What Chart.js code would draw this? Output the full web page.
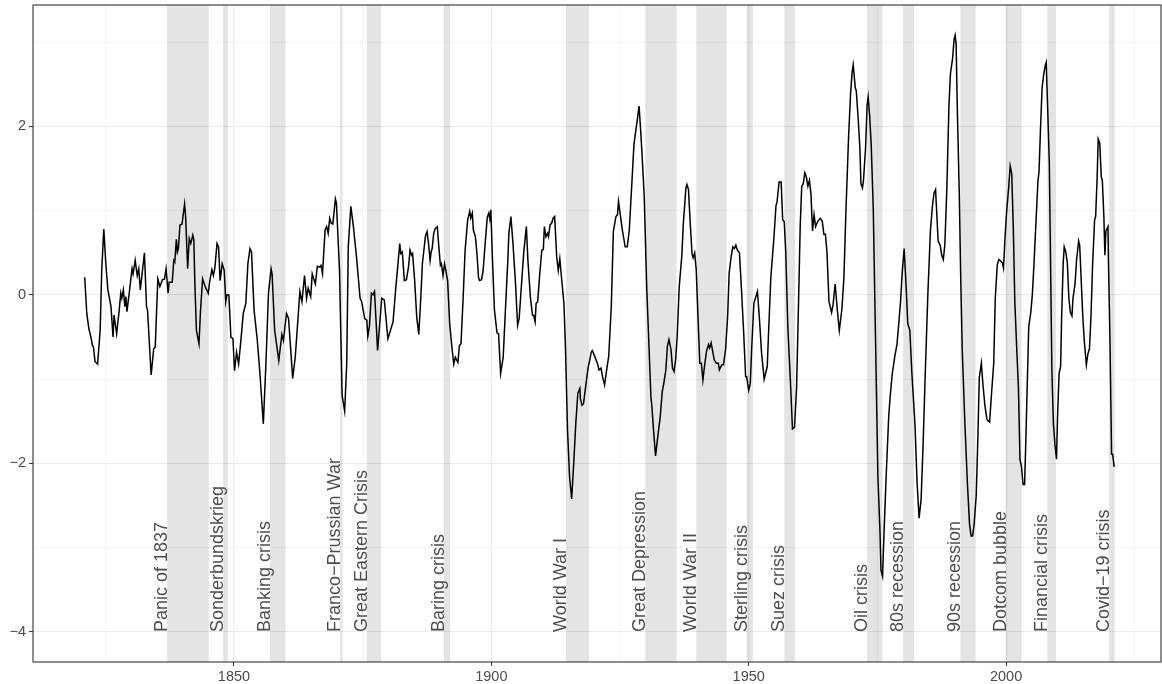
<!DOCTYPE html>
<html>
<head>
<meta charset="utf-8">
<script src="https://cdn.jsdelivr.net/npm/chart.js@4.4.1/dist/chart.umd.min.js"></script>
<style>
  html, body { margin: 0; padding: 0; background: #ffffff; }
  canvas { display: block; }
</style>
</head>
<body>
<canvas id="chart" width="1162" height="684"></canvas>
<script>
// Composite index, sampled along the time axis (decimal years)
const years = [
  1821.0,1821.4,1821.8,1822.2,1822.5,1822.7,1823.0,1823.5,1824.0,1824.3,1824.7,1825.1,1825.5,1826.1,1826.5,1826.7,
  1827.2,1827.7,1828.0,1828.2,1828.5,1828.8,1829.0,1829.2,1829.6,1830.2,1830.4,1830.8,1831.2,1831.5,1831.8,1832.6,
  1833.0,1833.2,1833.9,1834.4,1834.7,1835.2,1835.6,1836.1,1836.5,1836.8,1837.2,1837.4,1838.0,1838.3,1838.5,1838.8,
  1839.0,1839.2,1839.5,1839.9,1840.4,1840.6,1841.0,1841.3,1841.6,1842.0,1842.2,1842.4,1842.7,1843.2,1843.5,1843.9,
  1844.4,1845.0,1845.3,1845.7,1846.0,1846.3,1846.7,1847.0,1847.3,1847.7,1848.1,1848.4,1848.6,1849.0,1849.4,1849.8,
  1850.1,1850.5,1850.9,1851.4,1851.8,1852.3,1852.7,1853.1,
  1853.4,1853.9,1854.5,1855.0,1855.7,1856.2,1856.7,1857.2,1857.4,1857.9,1858.7,1859.3,1859.6,1860.2,1860.6,1861.4,
  1861.9,1862.8,1863.2,1863.7,1864.1,1864.4,1864.9,1865.2,1865.8,1866.2,1866.6,1866.9,1867.2,1867.7,1868.0,1868.3,
  1868.6,1868.9,1869.2,1869.7,1869.9,1870.5,1871.0,1871.5,1871.9,1872.2,1872.7,1873.2,1873.8,1874.5,1874.8,1875.4,
  1875.8,1876.0,1876.3,1876.7,1877.0,1877.3,1877.9,1878.7,1879.2,1879.9,1880.4,1880.9,1881.4,1881.8,1882.2,1882.4,
  1882.7,1883.1,1883.5,1883.9,1884.2,1884.5,1884.7,1885.1,1885.5,1885.9,1886.3,1886.6,
  1887.2,1887.5,1887.8,1888.1,1888.3,1888.5,1888.8,1889.1,1889.5,1889.8,1890.1,1890.3,1890.6,1890.9,1891.1,1891.5,
  1891.9,1892.4,1892.7,1893.0,1893.5,1893.8,1894.1,1894.5,1894.9,1895.4,1895.8,1896.0,1896.3,1896.5,1896.9,1897.2,
  1897.5,1897.7,1898.1,1898.4,1898.7,1899.2,1899.5,1899.7,1899.9,1900.2,1900.6,1901.1,1901.4,1901.8,1902.3,1902.7,
  1903.2,1903.4,1903.8,1904.2,1904.7,1905.1,1905.4,1906.0,1906.3,1906.8,1907.1,1907.6,1908.0,1908.2,1908.5,1908.7,
  1909.0,1909.4,1909.8,1910.1,1910.3,1910.6,1910.9,1911.1,1911.4,1911.7,1912.0,1912.3,1912.7,1913.0,1913.3,1913.5,
  1914.1,1914.4,1914.8,1915.2,1915.6,1916.0,1916.4,1916.8,1917.2,1917.3,1917.6,1917.9,1918.4,1918.8,1919.1,1919.4,
  1919.6,1919.9,
  1920.2,1920.6,1920.9,1921.3,1921.6,1922.0,1922.4,1922.8,1923.3,1923.7,1924.2,1924.5,1924.7,1925.1,1925.5,1926.0,
  1926.4,1926.8,1927.3,1927.7,1928.0,1928.4,1928.7,1929.0,1929.3,1929.7,1930.2,1930.6,1931.0,1931.2,1931.5,1931.9,
  1932.3,1932.8,1933.2,1933.5,1933.9,1934.2,1934.5,1934.9,1935.2,1935.5,1935.8,1936.1,1936.5,1937.0,1937.3,1937.8,
  1938.0,1938.3,1938.6,1939.0,1939.2,1939.5,1939.8,1940.2,1940.5,1940.8,1941.1,1941.4,1941.8,1942.2,1942.4,1942.7,
  1943.0,1943.3,1943.7,1944.1,1944.3,1944.6,1944.8,1945.1,1945.5,1945.9,1946.2,1946.6,1946.9,1947.2,1947.5,1947.8,
  1948.2,1948.6,1949.0,1949.4,1949.6,1950.0,1950.3,1950.6,1951.0,1951.4,1951.7,1952.1,1952.5,
  1953.0,1953.6,1953.9,1954.3,1954.9,1955.3,1955.5,1955.9,1956.3,1956.6,1956.9,1957.2,1957.6,1958.1,1958.5,1958.9,
  1959.3,1959.7,1960.0,1960.3,1960.6,1960.9,1961.2,1961.5,1961.8,1962.1,1962.4,1962.7,1963.0,1963.4,1963.9,1964.3,
  1964.6,1964.9,1965.2,1965.6,1966.1,1966.4,1966.8,1967.2,1967.6,1968.1,1968.5,1968.9,1969.4,1969.8,1970.1,1970.3,
  1970.7,1970.9,1971.3,1971.6,1971.8,1972.1,1972.3,1972.7,1973.0,1973.2,1973.5,1973.8,1974.2,1974.5,1974.8,1975.1,
  1975.5,1975.7,1976.0,1976.3,1976.7,1977.2,1977.5,1977.9,1978.1,1978.4,1978.8,1979.1,1979.5,1979.8,1980.2,1980.6,
  1980.9,1981.3,1981.7,1982.3,1982.7,1983.1,1983.5,1983.9,1984.3,1984.8,1985.3,1985.7,1986.0,1986.3,
  1986.8,1987.2,1987.5,1987.8,1988.1,1988.5,1988.9,1989.2,1989.6,1989.9,1990.1,1990.3,1990.5,1990.9,1991.2,1991.5,
  1992.0,1992.5,1992.9,1993.2,1993.5,1993.8,1994.2,1994.5,1994.8,1995.2,1995.5,1995.9,1996.3,1996.8,1997.2,1997.6,
  1997.9,1998.3,1998.6,1999.0,1999.3,1999.5,1999.8,2000.1,2000.5,2000.8,2001.1,2001.4,2001.7,2002.1,2002.4,2002.7,
  2003.0,2003.3,2003.6,2003.8,2004.1,2004.4,2004.8,2005.1,2005.4,2005.8,2006.2,2006.4,2006.7,2007.0,2007.3,2007.6,
  2007.8,2008.0,2008.4,2008.6,2008.9,2009.2,2009.5,2009.8,2010.0,2010.3,2010.6,2010.8,2011.1,2011.3,2011.6,2011.9,
  2012.2,2012.5,2012.8,2013.0,2013.4,2013.7,2014.1,2014.3,2014.6,2014.9,2015.2,2015.6,2015.9,2016.2,2016.5,2016.8,
  2017.2,2017.4,2017.7,2017.9,2018.2,2018.5,2018.7,2019.0,2019.2,2019.4,2019.8,2019.9,2020.2,2020.5,2020.7,2021.0
];

const values = [
  0.21,-0.22,-0.40,-0.50,-0.60,-0.62,-0.79,-0.82,-0.42,0.29,0.78,0.37,0.06,-0.14,-0.50,-0.24,
  -0.46,-0.18,0.02,-0.04,0.06,-0.14,-0.02,-0.20,0.00,0.31,0.25,0.41,0.23,0.31,0.06,0.50,
  -0.14,-0.18,-0.95,-0.64,-0.62,0.19,0.10,0.18,0.19,0.31,0.02,0.15,0.15,0.41,0.39,0.66,
  0.51,0.55,0.83,0.84,1.08,0.93,0.31,0.67,0.61,0.71,0.65,0.13,-0.42,-0.58,-0.18,0.19,
  0.10,0.02,0.17,0.30,0.23,0.33,0.61,0.57,0.17,0.37,0.29,-0.08,0.00,0.00,-0.50,-0.52,
  -0.90,-0.68,-0.82,-0.50,-0.22,-0.10,0.37,0.55,
  0.51,-0.18,-0.52,-0.90,-1.53,-0.82,0.02,0.31,0.25,-0.42,-0.78,-0.47,-0.54,-0.22,-0.28,-0.99,
  -0.74,0.04,-0.08,0.23,-0.04,0.08,-0.02,0.25,0.13,0.34,0.33,0.35,0.25,0.77,0.81,0.73,
  0.91,0.85,0.84,1.14,1.09,0.29,-1.19,-1.38,-0.82,0.57,1.05,0.81,0.45,-0.04,-0.08,-0.28,
  -0.30,-0.49,-0.38,0.02,0.00,0.04,-0.66,-0.04,-0.06,-0.52,-0.42,-0.32,0.06,0.33,0.61,0.49,
  0.51,0.17,0.18,0.33,0.53,0.47,0.49,0.17,-0.26,-0.47,-0.02,0.37,
  0.70,0.75,0.61,0.41,0.51,0.55,0.73,0.79,0.81,0.57,0.35,0.37,0.23,0.37,0.31,0.17,
  -0.34,-0.66,-0.82,-0.74,-0.80,-0.60,-0.58,-0.06,0.53,0.89,0.99,0.91,0.97,0.77,0.69,0.49,
  0.21,0.17,0.18,0.29,0.53,0.92,0.97,0.90,1.01,0.45,-0.18,-0.45,-0.46,-0.93,-0.74,-0.22,
  0.41,0.73,0.93,0.61,0.13,-0.36,-0.28,0.25,0.51,0.81,0.41,-0.04,-0.24,-0.24,-0.32,-0.10,
  -0.08,0.25,0.53,0.54,0.81,0.69,0.73,0.69,0.83,0.85,0.91,0.93,0.45,0.29,0.43,0.29,
  -0.10,-0.62,-1.61,-2.16,-2.42,-2.00,-1.53,-1.17,-1.11,-1.23,-1.31,-1.29,-1.05,-0.86,-0.78,-0.68,
  -0.66,-0.70,
  -0.75,-0.81,-0.89,-0.87,-0.97,-1.07,-0.89,-0.73,-0.14,0.75,0.93,0.95,1.11,0.93,0.75,0.57,
  0.57,0.77,1.33,1.78,1.92,2.10,2.24,1.96,1.64,1.17,0.06,-0.57,-1.21,-1.33,-1.60,-1.91,
  -1.70,-1.45,-1.15,-1.05,-0.89,-0.61,-0.53,-0.65,-0.87,-0.91,-0.77,-0.50,0.10,0.46,0.85,1.27,
  1.31,1.25,0.89,0.48,0.44,0.50,0.30,-0.34,-0.81,-0.81,-1.01,-0.85,-0.67,-0.59,-0.63,-0.57,
  -0.67,-0.77,-0.81,-0.81,-0.89,-0.85,-0.83,-0.83,-0.65,-0.26,0.26,0.46,0.57,0.55,0.59,0.53,
  0.50,0.06,-0.42,-0.97,-0.97,-1.13,-1.05,-0.61,-0.10,-0.02,0.04,-0.30,-0.69,
  -1.00,-0.85,-0.38,0.21,0.68,1.06,1.10,1.34,1.34,0.89,0.87,0.51,-0.38,-1.02,-1.59,-1.57,
  -1.10,-0.04,0.81,1.29,1.32,1.45,1.40,1.29,1.36,1.19,0.76,0.95,0.81,0.87,0.91,0.87,
  0.72,0.72,0.51,-0.08,-0.21,-0.11,0.13,-0.17,-0.42,-0.17,0.21,1.02,1.87,2.40,2.65,2.73,
  2.46,2.42,2.06,1.74,1.32,1.27,1.36,1.74,2.25,2.35,2.12,1.78,1.02,-0.04,-1.10,-2.16,
  -2.80,-3.27,-3.34,-2.80,-2.16,-1.44,-1.19,-0.93,-0.85,-0.72,-0.59,-0.38,-0.08,0.25,0.55,0.08,
  -0.34,-0.42,-0.93,-1.53,-2.21,-2.65,-2.42,-1.74,-0.93,0.00,0.76,1.06,1.21,1.25,
  0.64,0.59,0.47,0.42,0.59,1.27,2.25,2.63,2.80,3.03,3.08,2.97,2.29,1.23,0.17,-0.68,
  -1.53,-2.25,-2.72,-2.86,-2.86,-2.72,-2.38,-1.74,-0.98,-0.81,-1.06,-1.32,-1.48,-1.51,-1.15,-0.81,
  -0.04,0.36,0.42,0.40,0.38,0.32,0.68,0.98,1.27,1.53,1.44,0.81,-0.08,-0.68,-1.10,-1.95,
  -2.04,-2.25,-2.25,-1.82,-1.10,-0.38,-0.21,0.00,0.34,0.85,1.36,1.46,1.99,2.46,2.61,2.72,
  2.76,2.38,1.57,0.59,-0.89,-1.53,-1.78,-1.95,-1.44,-0.93,-0.85,-0.25,0.38,0.57,0.51,0.38,
  -0.04,-0.21,-0.25,-0.04,0.13,0.42,0.64,0.59,0.17,-0.25,-0.55,-0.83,-0.70,-0.64,-0.25,0.34,
  0.89,0.93,1.40,1.85,1.80,1.40,1.36,0.93,0.47,0.76,0.81,0.38,-0.59,-1.89,-1.89,-2.04
];

// Crisis episodes: names and start / end (decimal years)
const crisisNames = [
  'Panic of 1837','Sonderbundskrieg','Banking crisis','Franco\u2212Prussian War','Great Eastern Crisis',
  'Baring crisis','World War I','Great Depression','World War II','Sterling crisis','Suez crisis',
  'Oil crisis','80s recession','90s recession','Dotcom bubble','Financial crisis','Covid\u221219 crisis'
];
const crisisStart = [1837.0,1847.9,1857.0,1870.6,1875.8,1890.8,1914.5,1929.9,1939.8,1949.6,1956.9,1973.0,1980.0,1991.1,1999.9,2008.0,2020.0];
const crisisEnd   = [1845.1,1848.8,1860.0,1871.1,1878.6,1892.0,1919.0,1936.0,1945.7,1950.8,1959.0,1976.0,1982.1,1994.1,2003.0,2009.7,2021.1];
const crisisLabelAt = -4;

// Labelled axis ticks (the others only carry a light grid line)
const xTickLabels = [1850, 1900, 1950, 2000];
const yTickLabels = [-4, -2, 0, 2];

const FONT = '"Liberation Sans", Arial, Helvetica, sans-serif';

const crisisLayer = {
  id: 'crisisLayer',
  beforeDatasetsDraw(chart) {
    const { ctx, chartArea: a, scales: { x, y } } = chart;
    ctx.save();
    ctx.beginPath();
    ctx.rect(a.left, a.top, a.right - a.left, a.bottom - a.top);
    ctx.clip();
    ctx.fillStyle = 'rgba(0,0,0,0.105)';
    crisisStart.forEach((s, i) => {
      const x0 = x.getPixelForValue(s);
      const x1 = x.getPixelForValue(crisisEnd[i]);
      ctx.fillRect(x0, a.top, x1 - x0, a.bottom - a.top);
    });
    ctx.fillStyle = '#4D4D4D';
    ctx.font = '18px ' + FONT;
    ctx.textAlign = 'left';
    ctx.textBaseline = 'alphabetic';
    const yb = y.getPixelForValue(crisisLabelAt);
    crisisNames.forEach((name, i) => {
      ctx.save();
      ctx.translate(x.getPixelForValue(crisisStart[i]), yb);
      ctx.rotate(-Math.PI / 2);
      ctx.fillText(name, 0, 0);
      ctx.restore();
    });
    ctx.restore();
  },
  afterDatasetsDraw(chart) {
    const { ctx, chartArea: a } = chart;
    ctx.save();
    ctx.strokeStyle = '#333333';
    ctx.lineWidth = 1.1;
    ctx.strokeRect(a.left, a.top, a.right - a.left, a.bottom - a.top);
    ctx.restore();
  }
};

const isMajorX = v => xTickLabels.includes(v);
const isMajorY = v => yTickLabels.includes(v);
const fmt = v => (v < 0 ? '\u2212' + Math.abs(v) : String(v));

new Chart(document.getElementById('chart'), {
  type: 'line',
  data: {
    datasets: [{
      data: years.map((yr, i) => ({ x: yr, y: values[i] })),
      borderColor: '#000000',
      borderWidth: 1.5,
      pointRadius: 0,
      tension: 0,
      fill: false
    }]
  },
  options: {
    responsive: false,
    animation: false,
    devicePixelRatio: 1,
    layout: { padding: { top: 5, right: 1, left: 0, bottom: 0 } },
    plugins: { legend: { display: false }, tooltip: { enabled: false } },
    scales: {
      x: {
        type: 'linear',
        min: 1810.95,
        max: 2030.1,
        border: { display: false },
        ticks: {
          stepSize: 25,
          includeBounds: false,
          autoSkip: false,
          maxRotation: 0,
          padding: 2,
          color: '#4D4D4D',
          font: { family: FONT, size: 14.5 },
          callback: v => (isMajorX(v) ? String(v) : '')
        },
        grid: {
          color: '#EBEBEB',
          lineWidth: c => (c.tick && isMajorX(c.tick.value) ? 1.1 : 0.55),
          tickLength: 4,
          tickWidth: 1,
          tickColor: c => (c.tick && isMajorX(c.tick.value) ? '#333333' : 'rgba(0,0,0,0)')
        },
        afterFit: s => { s.height = 22; s.paddingLeft = 0; s.paddingRight = 0; }
      },
      y: {
        type: 'linear',
        min: -4.356,
        max: 3.44,
        border: { display: false },
        ticks: {
          stepSize: 1,
          includeBounds: false,
          padding: 3,
          color: '#4D4D4D',
          font: { family: FONT, size: 14.5 },
          callback: v => (isMajorY(v) ? fmt(v) : '')
        },
        grid: {
          color: '#EBEBEB',
          lineWidth: c => (c.tick && isMajorY(c.tick.value) ? 1.1 : 0.55),
          tickLength: 4,
          tickWidth: 1,
          tickColor: c => (c.tick && isMajorY(c.tick.value) ? '#333333' : 'rgba(0,0,0,0)')
        },
        afterFit: s => { s.width = 33; s.paddingTop = 0; s.paddingBottom = 0; }
      }
    }
  },
  plugins: [crisisLayer]
});
</script>
</body>
</html>
